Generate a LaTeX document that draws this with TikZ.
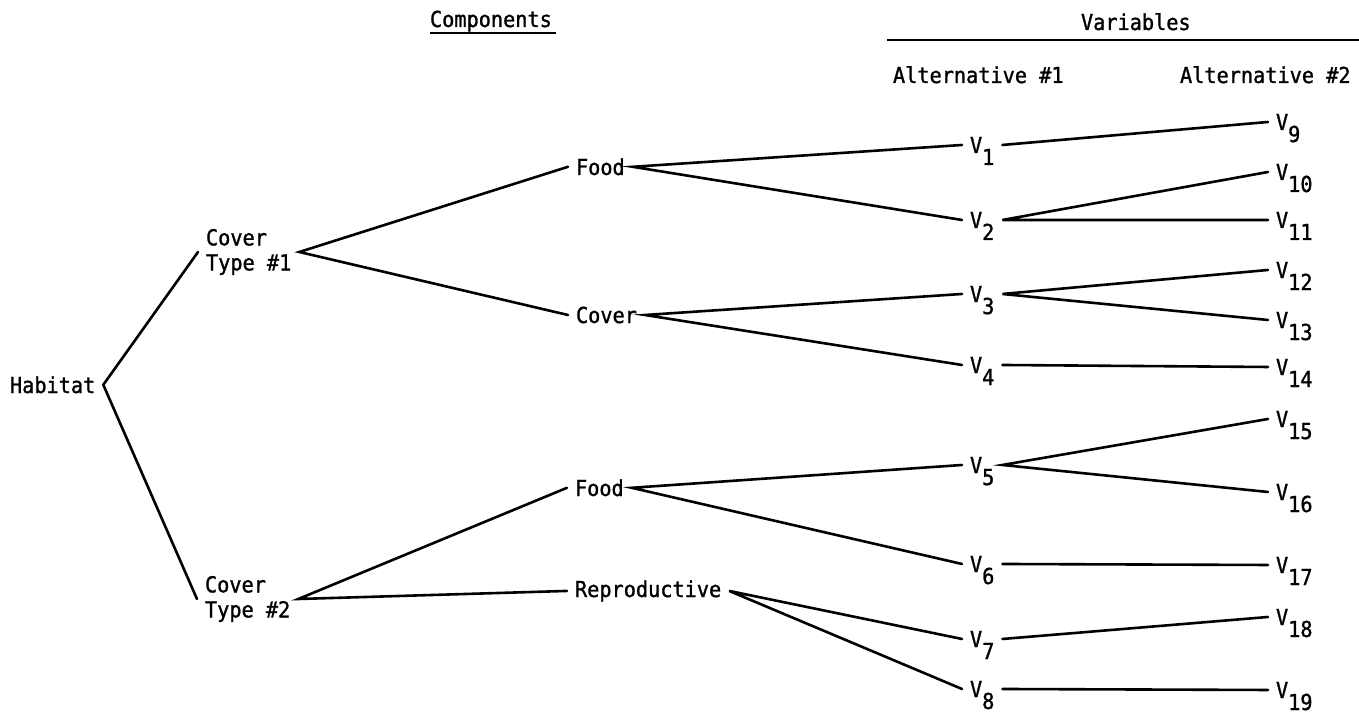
\documentclass[tikz,border=0pt]{standalone}
\usepackage{fontspec}
\newfontfamily\diagfont[FakeBold=1.2,FakeStretch=0.92]{DejaVu Sans Mono}
\newcommand\Vsub[1]{V\smash{\raisebox{-12pt}{#1}}}
\begin{document}
\begin{tikzpicture}[x=1pt,y=-1pt,
  every node/.style={font=\diagfont\fontsize{22}{25}\selectfont},
  lbl/.style={inner xsep=8pt, inner ysep=2pt, outer sep=0pt, anchor=base west},
  two/.style={lbl, anchor=west, align=left},
  hdr/.style={inner sep=0pt, outer sep=0pt, anchor=base west},
  ln/.style={line width=2.6pt, line cap=round}]
\useasboundingbox (0,0) rectangle (1359,719);

% headers
\node[hdr] (comp) at (430,27) {Components};
\node[hdr] (vars) at (1081,30) {Variables};
\node[hdr] (alt1) at (893,83) {Alternative \#1};
\node[hdr] (alt2) at (1180,83) {Alternative \#2};
\draw[line width=2.4pt] ([yshift=-6pt]comp.base west) -- ([yshift=-6pt,xshift=4pt]comp.base east);
\coordinate (rl) at (887,40);
\coordinate (rr) at (1359,40);
\draw[line width=2.6pt] (rl) -- (rr);

% tree nodes
\node[lbl] (hab) at (2,393) {Habitat};
\node[two] (ct1) at (198,252) {Cover\\Type \#1};
\node[two] (ct2) at (197,599) {Cover\\Type \#2};
\node[lbl] (food1) at (568,175) {Food};
\node[lbl] (cov) at (568,323) {Cover};
\node[lbl] (food2) at (567,496) {Food};
\node[lbl] (rep) at (567,597) {Reproductive};

% alternative 1
\node[lbl] (v1) at (962,153) {\Vsub{1}};
\node[lbl] (v2) at (962,228) {\Vsub{2}};
\node[lbl] (v3) at (962,302) {\Vsub{3}};
\node[lbl] (v4) at (962,373) {\Vsub{4}};
\node[lbl] (v5) at (962,473) {\Vsub{5}};
\node[lbl] (v6) at (962,572) {\Vsub{6}};
\node[lbl] (v7) at (962,647) {\Vsub{7}};
\node[lbl] (v8) at (962,697) {\Vsub{8}};

% alternative 2
\node[lbl] (v9)  at (1268,130) {\Vsub{9}};
\node[lbl] (v10) at (1268,180) {\Vsub{10}};
\node[lbl] (v11) at (1268,228) {\Vsub{11}};
\node[lbl] (v12) at (1268,278) {\Vsub{12}};
\node[lbl] (v13) at (1268,328) {\Vsub{13}};
\node[lbl] (v14) at (1268,375) {\Vsub{14}};
\node[lbl] (v15) at (1268,427) {\Vsub{15}};
\node[lbl] (v16) at (1268,500) {\Vsub{16}};
\node[lbl] (v17) at (1268,573) {\Vsub{17}};
\node[lbl] (v18) at (1268,625) {\Vsub{18}};
\node[lbl] (v19) at (1268,698) {\Vsub{19}};

% connectors
\draw[ln] (ct1.west) -- (hab.east) -- (ct2.west);
\draw[ln] (food1.west) -- (ct1.east) -- (cov.west);
\draw[ln] (food2.west) -- (ct2.east) -- (rep.west);
\draw[ln] (v1.west) -- (food1.east) -- (v2.west);
\draw[ln] (v3.west) -- (cov.east) -- (v4.west);
\draw[ln] (v5.west) -- (food2.east) -- (v6.west);
\draw[ln] (v7.west) -- (rep.east) -- (v8.west);
\draw[ln] (v1.east) -- (v9.west);
\draw[ln] (v10.west) -- (v2.east) -- (v11.west);
\draw[ln] (v12.west) -- (v3.east) -- (v13.west);
\draw[ln] (v4.east) -- (v14.west);
\draw[ln] (v15.west) -- (v5.east) -- (v16.west);
\draw[ln] (v6.east) -- (v17.west);
\draw[ln] (v7.east) -- (v18.west);
\draw[ln] (v8.east) -- (v19.west);
\end{tikzpicture}
\end{document}
